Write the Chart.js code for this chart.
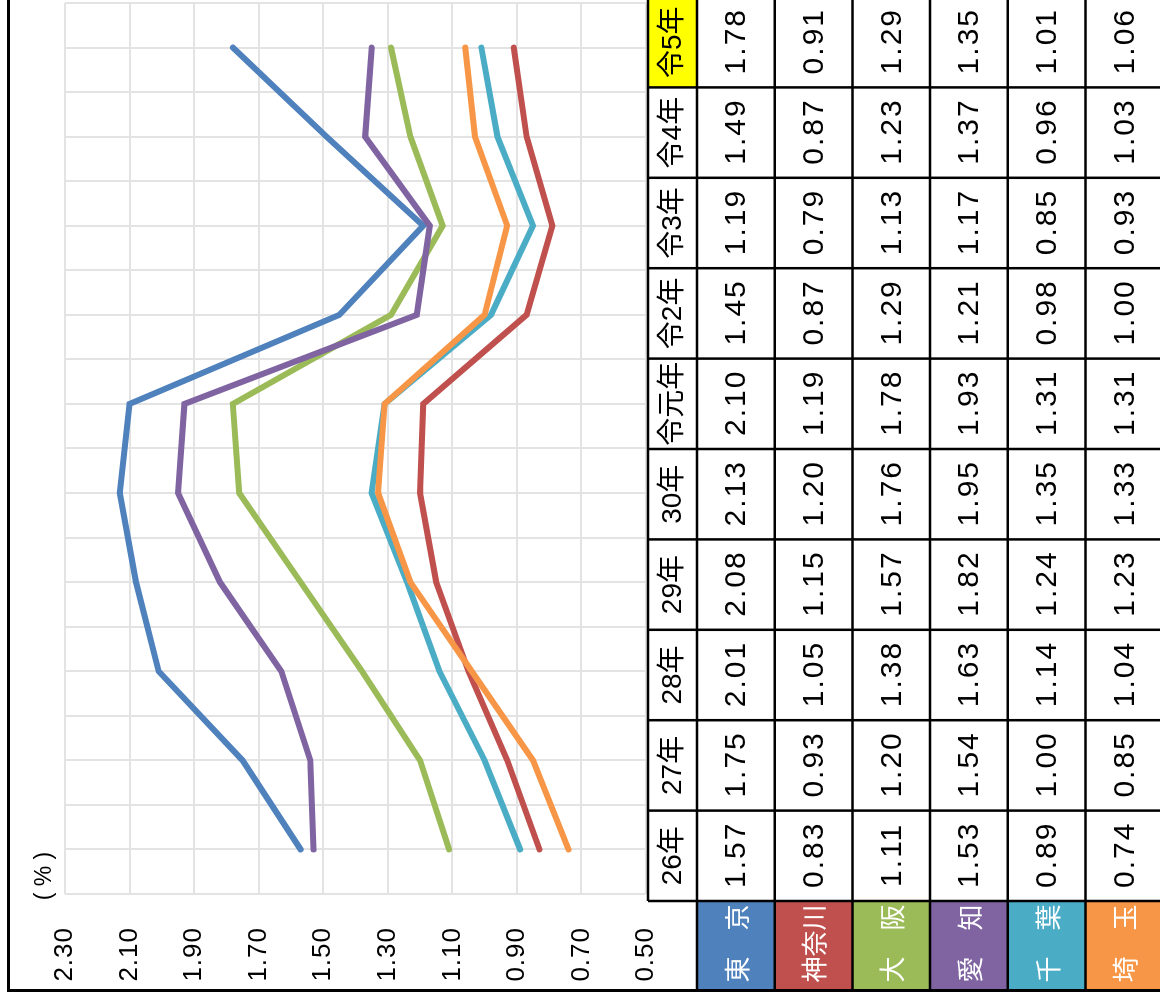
<!DOCTYPE html>
<html lang="ja">
<head>
<meta charset="utf-8">
<title>有効求人倍率の推移</title>
<script src="https://cdn.jsdelivr.net/npm/chart.js@4.4.1/dist/chart.umd.min.js"></script>
<style>
    html, body { margin: 0; padding: 0; background: #fff; overflow: hidden; }
    /* chart is drawn upright, then turned on its side like the original */
    #wrap {
        position: absolute; left: 0; top: 0;
        width: 1000px; height: 1160px;
        transform-origin: 0 0;
        transform: translate(0, 1000px) rotate(-90deg);
    }
    canvas { display: block; }
</style>
</head>
<body>
<div id="wrap"><canvas id="chart" width="1000" height="1160"></canvas></div>
<script>
// Data
const years = ['26年', '27年', '28年', '29年', '30年', '令元年', '令2年', '令3年', '令4年', '令5年'];
const tokyo    = [1.57, 1.75, 2.01, 2.08, 2.13, 2.10, 1.45, 1.19, 1.49, 1.78];
const kanagawa = [0.83, 0.93, 1.05, 1.15, 1.20, 1.19, 0.87, 0.79, 0.87, 0.91];
const osaka    = [1.11, 1.20, 1.38, 1.57, 1.76, 1.78, 1.29, 1.13, 1.23, 1.29];
const aichi    = [1.53, 1.54, 1.63, 1.82, 1.95, 1.93, 1.21, 1.17, 1.37, 1.35];
const chiba    = [0.89, 1.00, 1.14, 1.24, 1.35, 1.31, 0.98, 0.85, 0.96, 1.01];
const saitama  = [0.74, 0.85, 1.04, 1.23, 1.33, 1.31, 1.00, 0.93, 1.03, 1.06];
const prefNames = ['東　京', '神奈川', '大　阪', '愛　知', '千　葉', '埼　玉'];
const yTicks = [0.5, 0.7, 0.9, 1.1, 1.3, 1.5, 1.7, 1.9, 2.1, 2.3];

const series = [
    { name: prefNames[0], data: tokyo,    color: '#4f81bd' },
    { name: prefNames[1], data: kanagawa, color: '#c0504d' },
    { name: prefNames[2], data: osaka,    color: '#9bbb59' },
    { name: prefNames[3], data: aichi,    color: '#8064a2' },
    { name: prefNames[4], data: chiba,    color: '#4bacc6' },
    { name: prefNames[5], data: saitama,  color: '#f79646' }
];

// data table geometry (unrotated canvas coords)
const LEG_LEFT = 10;
const TBL_LEFT = 99;
const COL_W = 90.4;
const HEAD_TOP = 648;
const HEAD_H = 49;
const ROW_H = 77.7;

const latin = '"Liberation Sans", "Noto Sans CJK JP", sans-serif';
const cjk = '"Noto Sans CJK JP", sans-serif';

// slightly wider digit spacing for the axis labels
const spacingPlugin = {
    id: 'tickSpacing',
    beforeDraw(chart) {
        chart.ctx.letterSpacing = '1px';
    },
    beforeDatasetsDraw(chart) {
        chart.ctx.letterSpacing = '0px';
    }
};

const tablePlugin = {
    id: 'dataTable',
    afterDraw(chart) {
        const ctx = chart.ctx;
        const W = chart.width, H = chart.height;
        ctx.save();
        ctx.letterSpacing = '0px';

        // unit label
        ctx.fillStyle = '#000';
        ctx.font = '23px ' + latin;
        ctx.textAlign = 'center';
        ctx.textBaseline = 'middle';
        ctx.fillText('( % )', 124, 45);

        // header row
        years.forEach((label, i) => {
            const x0 = TBL_LEFT + i * COL_W;
            if (i === years.length - 1) {
                ctx.fillStyle = '#ffff00';
                ctx.fillRect(x0, HEAD_TOP, COL_W, HEAD_H);
            }
            ctx.fillStyle = '#000';
            ctx.font = '28px ' + latin;
            ctx.fillText(label, x0 + COL_W / 2, HEAD_TOP + HEAD_H / 2 + 1);
        });

        // rows
        series.forEach((s, r) => {
            const y0 = HEAD_TOP + HEAD_H + r * ROW_H;
            ctx.fillStyle = s.color;
            ctx.fillRect(LEG_LEFT, y0, TBL_LEFT - LEG_LEFT, ROW_H);
            ctx.fillStyle = '#fff';
            ctx.font = '26px ' + cjk;
            ctx.fillText(s.name, (LEG_LEFT + TBL_LEFT) / 2 + 2, y0 + ROW_H / 2 + 1);

            ctx.fillStyle = '#000';
            ctx.font = '30px ' + latin;
            ctx.letterSpacing = '2px';
            s.data.forEach((v, i) => {
                ctx.fillText(v.toFixed(2), TBL_LEFT + i * COL_W + COL_W / 2 + 1, y0 + ROW_H / 2 + 1);
            });
            ctx.letterSpacing = '0px';
        });

        // table borders
        ctx.strokeStyle = '#000';
        ctx.lineWidth = 2.5;
        ctx.beginPath();
        ctx.moveTo(TBL_LEFT, HEAD_TOP);
        ctx.lineTo(W, HEAD_TOP);
        for (let r = 0; r <= series.length; r++) {
            const y = HEAD_TOP + HEAD_H + r * ROW_H;
            ctx.moveTo(LEG_LEFT, y);
            ctx.lineTo(W, y);
        }
        for (let i = 0; i <= years.length; i++) {
            const x = TBL_LEFT + i * COL_W;
            ctx.moveTo(x, HEAD_TOP);
            ctx.lineTo(x, H);
        }
        ctx.stroke();

        // outer frame
        ctx.lineWidth = 3;
        ctx.beginPath();
        ctx.moveTo(9.5, H);
        ctx.lineTo(9.5, 8.5);
        ctx.lineTo(W, 8.5);
        ctx.stroke();

        ctx.restore();
    }
};

const ctx = document.getElementById('chart').getContext('2d');
new Chart(ctx, {
    type: 'line',
    data: {
        datasets: series.map((s, idx) => ({
            label: s.name,
            data: s.data.map((v, i) => ({ x: i, y: v })),
            borderColor: s.color,
            backgroundColor: s.color,
            borderWidth: 6,
            borderCapStyle: 'round',
            pointRadius: 0,
            tension: 0,
            order: series.length - idx
        }))
    },
    options: {
        responsive: false,
        animation: false,
        layout: { padding: { top: 65, right: 3, bottom: 514, left: 0 } },
        plugins: {
            legend: { display: false },
            tooltip: { enabled: false }
        },
        scales: {
            x: {
                type: 'linear',
                min: -0.5,
                max: years.length - 0.5,
                border: { display: false },
                grid: { color: '#e3e3e3', lineWidth: 2, drawTicks: false },
                ticks: { display: false, stepSize: 0.5 },
                afterFit: function (scale) { scale.height = 0; }
            },
            y: {
                min: yTicks[0],
                max: yTicks[yTicks.length - 1],
                border: { display: false },
                grid: { color: '#e3e3e3', lineWidth: 2, drawTicks: false },
                afterBuildTicks: function (scale) {
                    scale.ticks = yTicks.map(v => ({ value: v }));
                },
                afterFit: function (scale) { scale.width = 106; },
                ticks: {
                    padding: 33,
                    color: '#000',
                    font: { family: 'Liberation Sans', size: 26 },
                    callback: function (value) { return value.toFixed(2); }
                }
            }
        }
    },
    plugins: [spacingPlugin, tablePlugin]
});
</script>
</body>
</html>
